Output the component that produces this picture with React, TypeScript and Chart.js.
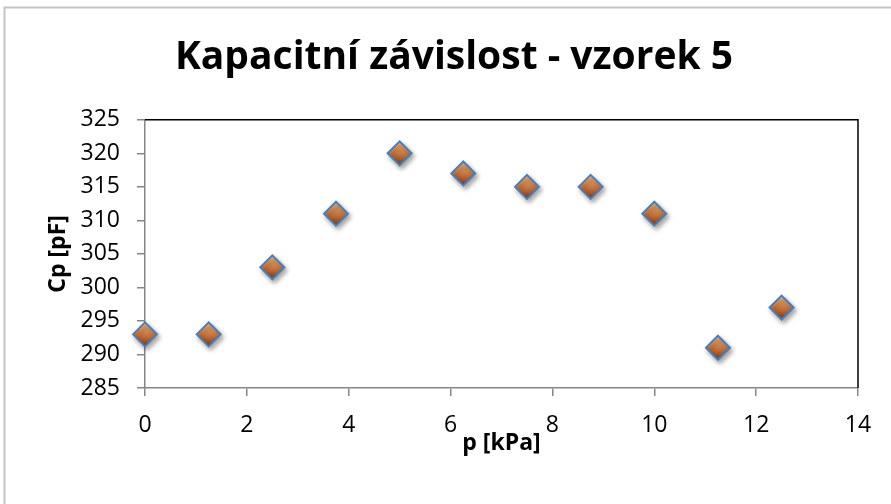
import React, { useEffect, useRef } from "react";
import { Chart, registerables } from "chart.js";

Chart.register(...registerables);

const pressureKPa = [0, 1.25, 2.5, 3.75, 5, 6.25, 7.5, 8.75, 10, 11.25, 12.5];
const capacitancePF = [293, 293, 303, 311, 320, 317, 315, 315, 311, 291, 297];
const chartTitle = "Kapacitní závislost - vzorek 5";
const xTitle = "p [kPa]";
const yTitle = "Cp [pF]";

const FONT = "'Open Sans', 'Noto Sans', sans-serif";

const framePlugin = {
  id: "frame",
  beforeDraw(chart: any) {
    const ctx = chart.ctx;
    ctx.save();
    ctx.strokeStyle = "#c4c4c4";
    ctx.lineWidth = 2;
    ctx.beginPath();
    ctx.moveTo(4.5, chart.height);
    ctx.lineTo(4.5, 7.5);
    ctx.lineTo(chart.width, 7.5);
    ctx.stroke();
    ctx.restore();
  },
  afterDraw(chart: any) {
    const { ctx, chartArea: a } = chart;
    ctx.save();
    ctx.strokeStyle = "#000000";
    ctx.lineWidth = 1.5;
    ctx.beginPath();
    ctx.moveTo(a.left, a.top);
    ctx.lineTo(a.right, a.top);
    ctx.lineTo(a.right, a.bottom);
    ctx.stroke();
    ctx.restore();
  },
  beforeDatasetsDraw(chart: any) {
    const ctx = chart.ctx;
    ctx.save();
    ctx.shadowColor = "rgba(0,0,0,0.35)";
    ctx.shadowBlur = 5;
    ctx.shadowOffsetX = 2;
    ctx.shadowOffsetY = 3;
  },
  afterDatasetsDraw(chart: any) {
    chart.ctx.restore();
  },
};

export default function App() {
  const ref = useRef<HTMLCanvasElement | null>(null);
  useEffect(() => {
    if (!ref.current) return;
    const points = pressureKPa.map((x, i) => ({ x, y: capacitancePF[i] }));
    const chart = new Chart(ref.current, {
      type: "scatter",
      data: {
        datasets: [
          {
            data: points,
            clip: false,
            pointStyle: "rectRot",
            pointRadius: 12,
            pointHoverRadius: 12,
            borderWidth: 2,
            borderColor: "#4a7ebb",
            backgroundColor: (c: any) => {
              const chart = c.chart;
              const ys = chart.scales && chart.scales.y;
              if (!ys || !c.raw) return "#c0703a";
              const py = ys.getPixelForValue(c.raw.y);
              if (!Number.isFinite(py)) return "#c0703a";
              const g = chart.ctx.createLinearGradient(0, py - 12, 0, py + 12);
              g.addColorStop(0, "#f2bd8c");
              g.addColorStop(0.5, "#cc7a40");
              g.addColorStop(1, "#853810");
              return g;
            },
          } as any,
        ],
      },
      options: {
        responsive: false,
        animation: false,
        layout: { padding: { left: 50, right: 33, top: 0, bottom: 0 } },
        plugins: {
          legend: { display: false },
          tooltip: { enabled: false },
          title: {
            display: true,
            text: chartTitle,
            color: "#000",
            font: { family: FONT, size: 39, weight: "bold", lineHeight: 1.2 },
            padding: { top: 34, bottom: 39 },
          },
        },
        scales: {
          x: {
            type: "linear",
            min: 0,
            max: 14,
            ticks: {
              stepSize: 2,
              color: "#000",
              font: { family: FONT, size: 23 },
              padding: 16,
            },
            grid: {
              drawOnChartArea: false,
              drawTicks: true,
              tickLength: 8,
              color: "#868686",
              lineWidth: 1.5,
            },
            border: { color: "#868686", width: 1.5 },
            title: {
              display: true,
              text: xTitle,
              color: "#000",
              font: { family: FONT, size: 23, weight: "bold", lineHeight: 1.2 },
              padding: { top: 0, bottom: 47 },
            },
            afterFit: (s: any) => {
              s.height = 116;
            },
          },
          y: {
            type: "linear",
            min: 285,
            max: 325,
            ticks: {
              stepSize: 5,
              color: "#000",
              font: { family: FONT, size: 23 },
              padding: 17,
            },
            grid: {
              drawOnChartArea: false,
              drawTicks: true,
              tickLength: 8,
              color: "#868686",
              lineWidth: 1.5,
            },
            border: { color: "#868686", width: 1.5 },
            title: {
              display: true,
              text: yTitle,
              color: "#000",
              font: { family: FONT, size: 23, weight: "bold", lineHeight: 1.2 },
              padding: { top: -5, bottom: 0 },
            },
            afterFit: (s: any) => {
              s.width = 95;
            },
          },
        },
      },
      plugins: [framePlugin],
    });
    return () => chart.destroy();
  }, []);
  return (
    <div style={{ position: "fixed", left: 0, top: 0, width: 891, height: 504, background: "#fff" }}>
      <canvas ref={ref} width={891} height={504} style={{ display: "block" }} />
    </div>
  );
}
